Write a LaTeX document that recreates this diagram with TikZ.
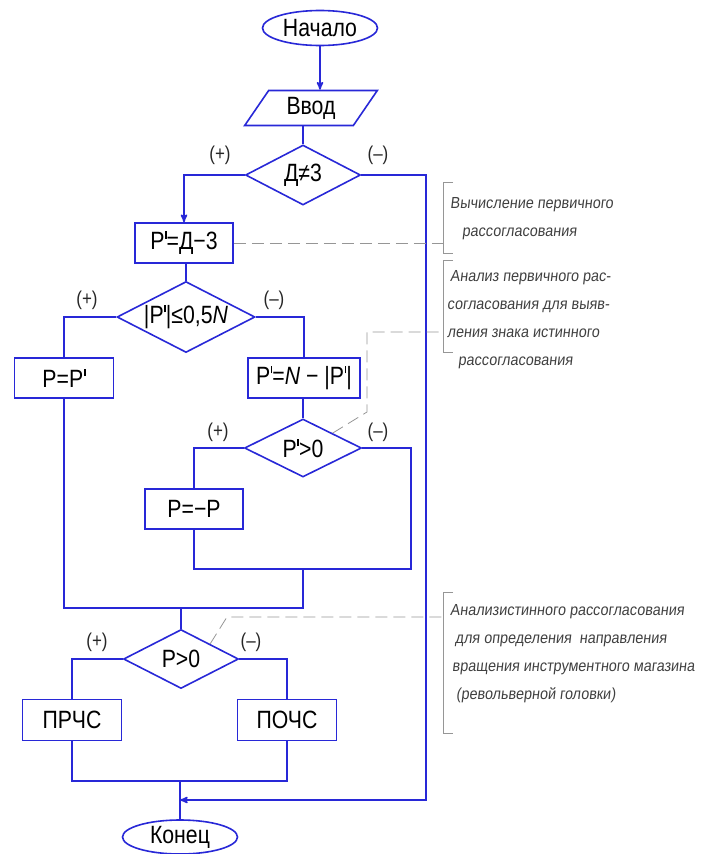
\documentclass[tikz,border=0pt]{standalone}
\usepackage{fontspec}
\setmainfont{Liberation Sans}[FakeStretch=0.85]
\newfontfamily\notefont{Liberation Sans}[FakeStretch=0.9,FakeSlant=0.12]
\usetikzlibrary{arrows,shapes.geometric}
\definecolor{lineblue}{RGB}{40,40,215}
\definecolor{leadgray}{RGB}{150,150,150}
\newcommand{\Ptick}{P\kern0.5pt\rule[0.45em]{0.07em}{0.3em}}

\begin{document}
\begin{tikzpicture}[x=1pt,y=-1pt,>=stealth',
  every node/.style={font=\fontsize{25}{28}\selectfont},
  term/.style={ellipse,draw=lineblue,line width=1.6pt,minimum width=115pt,minimum height=35pt,inner sep=0pt},
  io/.style={trapezium,trapezium left angle=58,trapezium right angle=122,trapezium stretches=true,draw=lineblue,line width=1.6pt,minimum width=133pt,minimum height=35pt,inner sep=0pt},
  decision/.style={diamond,aspect=2,draw=lineblue,line width=1.6pt,inner sep=0pt},
  block/.style={rectangle,draw=lineblue,line width=1.6pt,minimum height=40pt,inner sep=0pt},
  sign/.style={font=\fontsize{20}{22}\selectfont,inner sep=0pt,text=black!85},
  note/.style={font=\notefont\fontsize{16}{28}\selectfont,align=left,anchor=west,inner sep=0pt,text=black!75},
  flow/.style={draw=lineblue,line width=1.6pt},
  leader/.style={draw=leadgray,line width=0.8pt,dash pattern=on 12pt off 6pt},
  brace/.style={draw=leadgray,line width=0.8pt}]

\useasboundingbox (0,0) rectangle (709,854);

\node[term]   (start) at (320,28)   {Начало};
\node[io]     (vvod)  at (311,108)  {Ввод};
\node[decision,minimum width=115pt,minimum height=60pt]   (dz) at (303,175)   {Д≠3};
\node[block,minimum width=98pt]   (pd3) at (184,243)   {\Ptick=Д−3};
\node[decision,minimum width=138pt,minimum height=71pt]   (d2) at (186,317)   {|\Ptick|≤0,5\textit{N}};
\node[block,minimum width=99pt]   (pp) at (64,378)   {P=\Ptick};
\node[block,minimum width=112pt]   (pn) at (304,378)   {\Ptick=\textit{N} − |\Ptick|};
\node[decision,minimum width=117pt,minimum height=58pt]   (d3) at (303,448)   {\Ptick>0};
\node[block,minimum width=98pt]   (pm) at (194,509)   {P=−P};
\node[decision,minimum width=115pt,minimum height=59pt]   (d4) at (181,659)   {P>0};
\node[block,minimum width=99pt,minimum height=41pt]   (prchs) at (72,720)   {ПРЧС};
\node[block,minimum width=99pt,minimum height=41pt]   (pochs) at (287,720)   {ПОЧС};
\node[term,minimum height=34pt]   (konec) at (180,837)   {Конец};

\node[sign] (dzp) at (220,155) {(+)};
\node[sign] (dzm) at (378,155) {(–)};
\node[sign] (d2p) at (87,300)  {(+)};
\node[sign] (d2m) at (274,300) {(–)};
\node[sign] (d3p) at (218,432) {(+)};
\node[sign] (d3m) at (378,432) {(–)};
\node[sign] (d4p) at (97,642)  {(+)};
\node[sign] (d4m) at (251,642) {(–)};

\coordinate (ret) at (426,800);
\coordinate (m1) at (303,569);
\coordinate (c1) at (411,569);
\coordinate (c2) at (303,608);
\coordinate (c3) at (180,781);

	\draw[flow,->] (start.south) -- (start.south |- vvod.north);
	\draw[flow] (dz.north |- vvod.south) -- (dz.north);
	\draw[flow,->] (dz.west) -| (pd3.north);
	\draw[flow,->] (dz.east) -| (ret) -- (ret -| konec.north);
	\draw[flow] (d2.north |- pd3.south) -- (d2.north);
	\draw[flow] (d2.west) -| (pp.north);
	\draw[flow] (d2.east) -| (pn.north);
	\draw[flow] (d3.north |- pn.south) -- (d3.north);
	\draw[flow] (d3.west) -| (pm.north);
	\draw[flow] (pm.south) |- (c1) |- (d3.east);
	\draw[flow] (pp.south) |- (c2) -- (m1);
	\draw[flow] (d4.north |- c2) -- (d4.north);
	\draw[flow] (d4.west) -| (prchs.north);
	\draw[flow] (d4.east) -| (pochs.north);
	\draw[flow] (prchs.south) |- (c3) -| (pochs.south);
	\draw[flow] (c3) -- (konec.north);

% notes
\coordinate (b1) at (443,243);
\coordinate (b2) at (443,332);
\coordinate (b3) at (443,617);
\coordinate (k2) at (367,412);
\coordinate (k3) at (227,617);

	\draw[leader] (pd3.east) -- (b1);
	\draw[leader] (d3.north east) -- (k2) |- (b2);
	\draw[leader] (d4.north east) -- (k3) -- (b3);

	\draw[brace] (453,182) -- (443,182) -- (443,253) -- (453,253);
	\draw[brace] (453,260) -- (443,260) -- (443,352) -- (453,352);
	\draw[brace] (453,592) -- (443,592) -- (443,733) -- (453,733);

\node[note] (note1) at (450,219) {Вычисление первичного\\\hspace*{12pt}рассогласования};
\node[note] (note2) at (447,320) {\hspace*{3pt}Анализ первичного рас-\\согласования для выяв-\\ления знака истинного\\\hspace*{11pt}рассогласования};
\node[note] (note3) at (450,654) {Анализистинного рассогласования\\\hspace*{5pt}для определения\ \ направления\\\hspace*{2pt}вращения инструментного магазина\\\hspace*{6pt}(револьверной головки)};

\end{tikzpicture}
\end{document}
